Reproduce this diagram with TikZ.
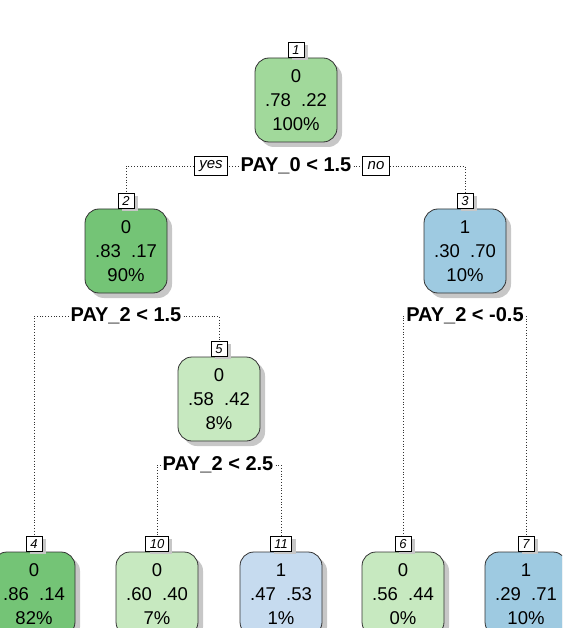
\documentclass[tikz,border=0pt]{standalone}
\usepackage{fontspec}
\setmainfont{Liberation Sans}
\usetikzlibrary{
  positioning,
  shadows
}
\definecolor{grnmid}{RGB}{116,196,118}
\definecolor{grnlt}{RGB}{161,217,155}
\definecolor{grnpale}{RGB}{199,233,192}
\definecolor{blult}{RGB}{158,202,225}
\definecolor{blupale}{RGB}{198,219,239}
\definecolor{edgegray}{RGB}{50,50,50}

\begin{document}
\begin{tikzpicture}[x=1pt, y=-1pt,
  probbox/.style={draw=edgegray, line width=0.8pt, rounded corners=14pt,
    minimum width=82pt, minimum height=84pt, inner sep=0pt, align=center,
    font=\fontsize{18.5}{24}\selectfont,
    drop shadow={shadow xshift=5pt, shadow yshift=-5pt, fill=black!22, opacity=1}},
  numbox/.style={draw=black, fill=white, line width=0.6pt, minimum width=16pt,
    minimum height=15pt, inner xsep=4pt, inner ysep=0pt,
    font=\fontsize{13}{13}\selectfont\itshape,
    drop shadow={shadow xshift=4pt, shadow yshift=-3pt, fill=black!22, opacity=1}},
  splitlab/.style={fill=white, inner sep=2pt, font=\fontsize{20}{20}\selectfont\bfseries},
  yesno/.style={draw=black, fill=white, line width=0.6pt, minimum height=19pt,
    inner xsep=5pt, inner ysep=0pt, font=\fontsize{15}{15}\selectfont\itshape},
  conn/.style={dotted, line width=0.8pt, color=black!80}]
  \useasboundingbox (0,0) rectangle (562,628);
  \clip (0,0) rectangle (562,628);

  % inner nodes
  \node[probbox, fill=grnlt] (n1) at (296,100) {0\\.78\ \ .22\\100\%};
  \node[numbox, above=0pt of n1] (l1) {1};
  \node[splitlab] (s1) at (296,166) {PAY\_0 < 1.5};

  \node[probbox, fill=grnmid] (n2) at (126,251) {0\\.83\ \ .17\\90\%};
  \node[numbox, above=0pt of n2] (l2) {2};
  \node[splitlab] (s2) at (126,316) {PAY\_2 < 1.5};

  \node[probbox, fill=blult] (n3) at (465,251) {1\\.30\ \ .70\\10\%};
  \node[numbox, above=0pt of n3] (l3) {3};
  \node[splitlab] (s3) at (465,316) {PAY\_2 < -0.5};

  \node[probbox, fill=grnpale] (n5) at (219,399) {0\\.58\ \ .42\\8\%};
  \node[numbox, above=0pt of n5] (l5) {5};
  \node[splitlab] (s5) at (218,465) {PAY\_2 < 2.5};

  % leaves
  \foreach \id/\x/\cls/\pr/\pct/\col in {
      4/34/0/.86\ \ .14/82/grnmid,
      10/157/0/.60\ \ .40/7/grnpale,
      11/281/1/.47\ \ .53/1/blupale,
      6/403/0/.56\ \ .44/0/grnpale,
      7/526/1/.29\ \ .71/10/blult}{
    \node[probbox, fill=\col] (n\id) at (\x,594) {\cls\\\pr\\\pct\%};
    \node[numbox, above=0pt of n\id] (l\id) {\id};
  }

  % dotted connectors
  \draw[conn] (s1.west) -| (l2.north);
  \draw[conn] (s1.east) -| (l3.north);
  \draw[conn] (s2.west) -| (l4.north);
  \draw[conn] (s2.east) -| (l5.north);
  \draw[conn] (s3.west) -| (l6.north);
  \draw[conn] (s3.east) -| (l7.north);
  \draw[conn] (s5.west) -| (l10.north);
  \draw[conn] (s5.east) -| (l11.north);

  \node[yesno] (yes) at (211,166) {yes};
  \node[yesno] (no) at (376,166) {no};
\end{tikzpicture}
\end{document}
